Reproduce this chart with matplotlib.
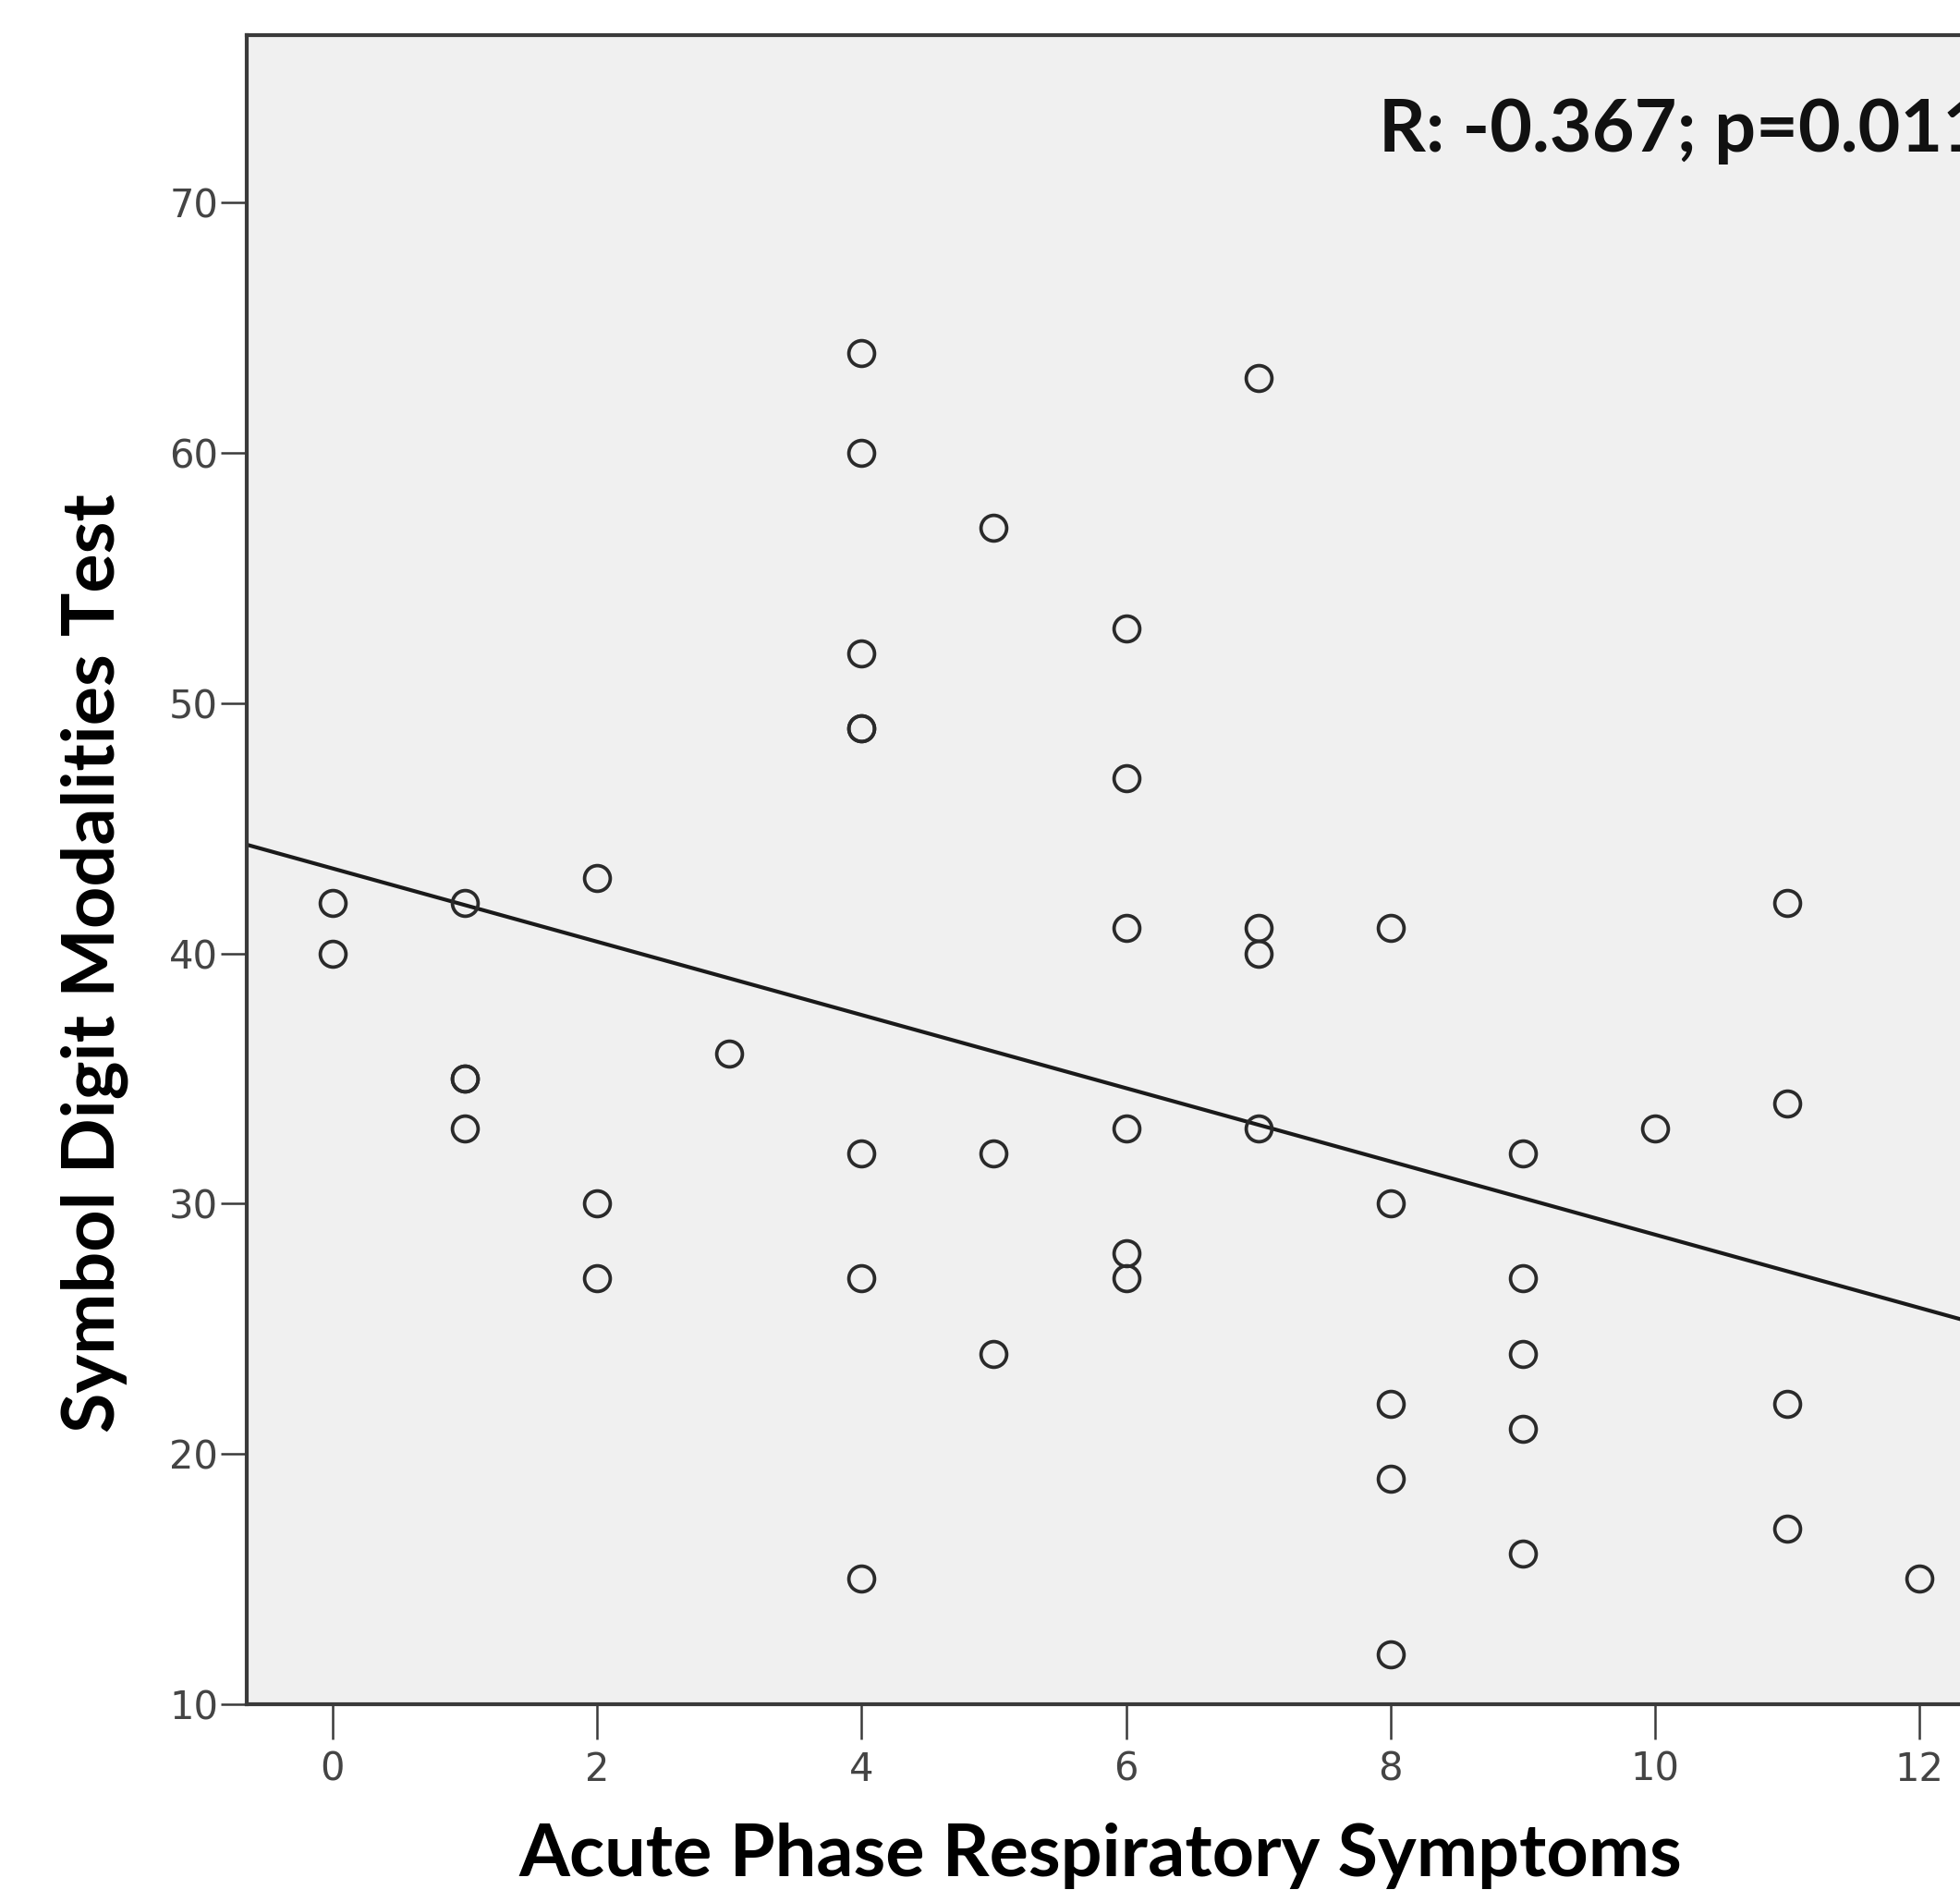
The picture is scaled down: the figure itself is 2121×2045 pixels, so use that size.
import numpy as np
import matplotlib.pyplot as plt

# respiratory symptom count (x) and SDMT score (y)
symptoms = [0, 0,
            1, 1, 1, 1,
            2, 2, 2,
            3,
            4, 4, 4, 4, 4, 4, 4, 4,
            5, 5, 5,
            6, 6, 6, 6, 6, 6,
            7, 7, 7, 7,
            8, 8, 8, 8, 8,
            9, 9, 9, 9, 9,
            10,
            11, 11, 11, 11,
            12]
sdmt = [42, 40,
        42, 35, 35, 33,
        43, 30, 27,
        36,
        64, 60, 52, 49, 49, 32, 27, 15,
        57, 32, 24,
        53, 47, 41, 33, 28, 27,
        63, 41, 40, 33,
        41, 30, 22, 19, 12,
        32, 27, 24, 21, 16,
        33,
        42, 34, 22, 17,
        15]
stat_text = "R: -0.367; p=0.011"
xticks = [0, 2, 4, 6, 8, 10, 12]
yticks = [10, 20, 30, 40, 50, 60, 70]

x = np.array(symptoms)
y = np.array(sdmt)
slope, intercept = np.polyfit(x, y, 1)

fig = plt.figure(figsize=(21.21, 20.45), dpi=100)
ax = fig.add_axes([0.1257, 0.0984, 0.8975, 0.8831])
ax.set_facecolor('#f0f0f0')

xmin, xmax = -0.652, 12.65
ax.set_xlim(xmin, xmax)
ax.set_ylim(10, 76.7)

# fit line
xl = np.array([xmin, xmax])
ax.plot(xl, intercept + slope * xl, color='#1a1a1a', lw=3, zorder=2)

ax.plot(x, y, 'o', ms=20, mfc='none', mec='#2a2a2a', mew=2.7, zorder=3)

ax.text(7.91, 72.85, stat_text, fontsize=57, fontweight='bold',
        family='Lato', va='center', ha='left', color='#111111')

for s in ax.spines.values():
    s.set_color('#3a3a3a')
    s.set_linewidth(3)

ax.set_xticks(xticks)
ax.set_yticks(yticks)
ax.tick_params(axis='x', length=27, width=1.8, color='#3a3a3a', pad=9,
               labelsize=30, labelcolor='#444444')
ax.tick_params(axis='y', length=20, width=1.8, color='#3a3a3a', pad=2,
               labelsize=30, labelcolor='#444444')

ax.set_xlabel("Acute Phase Respiratory Symptoms", fontsize=57,
              fontweight='bold', family='Lato')
ax.xaxis.set_label_coords(0.4854, -0.071)
ax.set_ylabel("Symbol Digit Modalities Test", fontsize=57,
              fontweight='bold', family='Lato')
ax.yaxis.set_label_coords(-0.067, 0.444)

fig.savefig("out.png", dpi=100)
